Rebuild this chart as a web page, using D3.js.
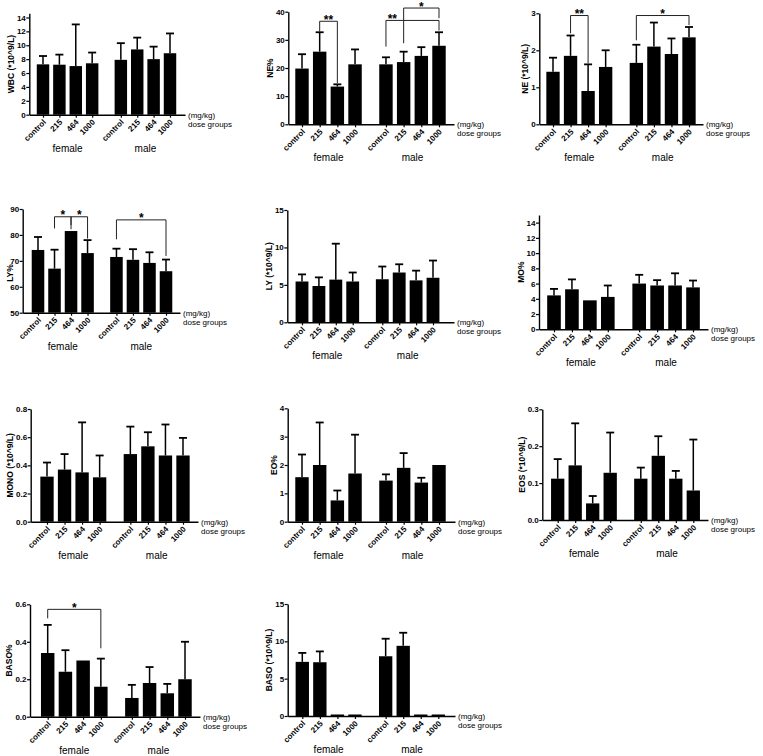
<!DOCTYPE html>
<html>
<head>
<meta charset="utf-8">
<script src="https://cdn.jsdelivr.net/npm/d3@7"></script>
<style>
  body { margin: 0; background: #fff; }
  svg { display: block; font-family: "Liberation Sans", Arial, sans-serif; }
</style>
</head>
<body>
<script>
// groups on the x axis
const doses = ['control', '215', '464', '1000'];
const sexes = ['female', 'male'];

// means and SD per group, female control..1000 then male control..1000
const wbcMean = [7.25, 7.2, 7.0, 7.4, 7.9, 9.4, 8.0, 8.85];
const wbcSd = [1.2, 1.45, 6.0, 1.55, 2.4, 1.7, 1.8, 2.85];
const nePctMean = [19.8, 25.8, 13.4, 21.3, 21.3, 22.1, 24.3, 27.9];
const nePctSd = [5.1, 6.9, 0.8, 5.3, 2.5, 3.7, 3.1, 4.8];
const neMean = [1.42, 1.85, 0.9, 1.55, 1.66, 2.1, 1.9, 2.35];
const neSd = [0.38, 0.55, 0.72, 0.45, 0.49, 0.65, 0.42, 0.28];
const lyPctMean = [74.2, 67.0, 81.5, 73.0, 71.5, 70.4, 69.2, 66.0];
const lyPctSd = [5.0, 7.3, 0, 5.0, 3.2, 4.1, 4.1, 4.5];
const lyMean = [5.45, 4.85, 5.7, 5.45, 5.75, 6.65, 5.6, 5.95];
const lySd = [0.95, 1.15, 4.8, 1.2, 1.7, 1.1, 1.3, 2.3];
const moPctMean = [4.45, 5.25, 3.8, 4.25, 6.0, 5.75, 5.75, 5.5];
const moPctSd = [0.85, 1.3, 0, 1.5, 1.15, 0.7, 1.6, 0.9];
const monoMean = [0.32, 0.37, 0.35, 0.315, 0.48, 0.535, 0.47, 0.47];
const monoSd = [0.1, 0.11, 0.355, 0.155, 0.195, 0.1, 0.22, 0.125];
const eoPctMean = [1.57, 2.0, 0.75, 1.7, 1.45, 1.9, 1.38, 2.0];
const eoPctSd = [0.8, 1.5, 0.35, 1.37, 0.22, 0.52, 0.17, 0];
const eosMean = [0.112, 0.148, 0.045, 0.128, 0.112, 0.174, 0.112, 0.08];
const eosSd = [0.053, 0.114, 0.02, 0.109, 0.03, 0.053, 0.021, 0.138];
const basoPctMean = [0.34, 0.24, 0.30, 0.16, 0.10, 0.18, 0.125, 0.20];
const basoPctSd = [0.15, 0.115, 0, 0.15, 0.07, 0.085, 0.05, 0.20];
const basoMean = [7.25, 7.2, 0, 0, 8.0, 9.4, 0, 0];
const basoSd = [1.2, 1.45, 0, 0, 2.35, 1.75, 0, 0];

// significance brackets: from/to group index, bracket level, leg ends, mark
const sigNePct = [
  {from: 1, to: 2, level: 36.6, endA: 32.9, endB: 14.6, mark: '**'},
  {from: 4, to: 7, level: 36.9, endA: 27.6, endB: 33.3, mark: '**', at: 0.12},
  {from: 5, to: 7, level: 41.3, endA: 28.8, endB: 37.7, mark: '*'}
];
const sigNe = [
  {from: 1, to: 2, level: 2.94, endA: 2.46, endB: 1.65, mark: '**'},
  {from: 4, to: 7, level: 2.94, endA: 2.27, endB: 2.68, mark: '*'}
];
const sigLyPct = [
  {from: 1, to: 2, level: 87.0, endA: 82.5, endB: 82.2, mark: '*'},
  {from: 2, to: 3, level: 87.0, endA: 83.8, endB: 78.6, mark: '*'},
  {from: 4, to: 7, level: 85.8, endA: 78.3, endB: 71.9, mark: '*'}
];
const sigBasoPct = [
  {from: 0, to: 3, level: 0.573, endA: 0.525, endB: 0.365, mark: '*'}
];

// tick values
const ticks14 = [0, 2, 4, 6, 8, 10, 12, 14];
const ticks40 = [0, 10, 20, 30, 40];
const ticks3 = [0, 1, 2, 3];
const ticksLy = [50, 60, 70, 80, 90];
const ticks15 = [0, 5, 10, 15];
const ticks08 = [0, 0.2, 0.4, 0.6, 0.8];
const ticks4 = [0, 1, 2, 3, 4];
const ticks03 = [0, 0.1, 0.2, 0.3];
const ticks06 = [0, 0.2, 0.4, 0.6];

const fmtInt = d3.format('d');
const fmt1 = d3.format('.1f');

// box: y axis x, first/last bar centre, x axis end, bottom/top pixel of the y domain
const panels = [
  {title: 'WBC  (*10^9/L)', mean: wbcMean, sd: wbcSd, domain: [0, 14.6], ticks: ticks14, fmt: fmtInt,
   box: {ax: 29.3, c0: 43, c7: 170, xEnd: 185, yb: 114.7, yt: 13.3}},
  {title: 'NE%', mean: nePctMean, sd: nePctSd, domain: [0, 40], ticks: ticks40, fmt: fmtInt, sig: sigNePct,
   box: {ax: 288.3, c0: 302, c7: 439, xEnd: 454, yb: 124.3, yt: 11.7}},
  {title: 'NE (*10^9/L)', mean: neMean, sd: neSd, domain: [0, 3], ticks: ticks3, fmt: fmtInt, sig: sigNe,
   box: {ax: 539.3, c0: 553, c7: 689, xEnd: 703, yb: 124.3, yt: 13.3}},
  {title: 'LY%', mean: lyPctMean, sd: lyPctSd, domain: [50, 90], ticks: ticksLy, fmt: fmtInt, sig: sigLyPct,
   box: {ax: 22.7, c0: 38, c7: 166, xEnd: 180, yb: 312.7, yt: 209, tx: 9.5, ty: 273}},
  {title: 'LY (*10^9/L)', mean: lyMean, sd: lySd, domain: [0, 15], ticks: ticks15, fmt: fmtInt,
   box: {ax: 287.3, c0: 302, c7: 433, xEnd: 454, yb: 322.3, yt: 210}},
  {title: 'MO%', mean: moPctMean, sd: moPctSd, domain: [0, 15], ticks: ticks14, fmt: fmtInt,
   box: {ax: 539, c0: 554, c7: 693, xEnd: 708, yb: 329.3, yt: 215}},
  {title: 'MONO (*10^9/L)', mean: monoMean, sd: monoSd, domain: [0, 0.8], ticks: ticks08, fmt: fmt1,
   box: {ax: 30.7, c0: 47, c7: 183, xEnd: 198, yb: 521.7, yt: 409}},
  {title: 'EO%', mean: eoPctMean, sd: eoPctSd, domain: [0, 4], ticks: ticks4, fmt: fmtInt,
   box: {ax: 287.7, c0: 302, c7: 439, xEnd: 455, yb: 521.7, yt: 408.3}},
  {title: 'EOS (*10^9/L)', mean: eosMean, sd: eosSd, domain: [0, 0.3], ticks: ticks03, fmt: fmt1,
   box: {ax: 542.3, c0: 557.7, c7: 693.3, xEnd: 708, yb: 520, yt: 409.3}},
  {title: 'BASO%', mean: basoPctMean, sd: basoPctSd, domain: [0, 0.6], ticks: ticks06, fmt: fmt1, sig: sigBasoPct,
   box: {ax: 30, c0: 47.7, c7: 185, xEnd: 200, yb: 716.7, yt: 604.3}},
  {title: 'BASO (*10^9/L)', mean: basoMean, sd: basoSd, domain: [0, 15], ticks: ticks15, fmt: fmtInt,
   box: {ax: 287.7, c0: 302.3, c7: 438.3, xEnd: 455, yb: 716, yt: 604}}
];

// bar slots, with a wider gap between the female and male groups
const slots = [0, 1, 2, 3, 4.75, 5.75, 6.75, 7.75];

const svg = d3.select('body').append('svg')
  .attr('width', 763)
  .attr('height', 756);

svg.append('rect').attr('width', 763).attr('height', 756).attr('fill', '#fff');

panels.forEach(p => {
  const b = p.box;
  const g = svg.append('g');

  const y = d3.scaleLinear().domain(p.domain).range([b.yb, b.yt]);
  const slot = d3.scaleLinear().domain([0, 7.75]).range([b.c0, b.c7]);
  // same mapping, stretched so the axis line runs from the y axis to xEnd
  const xAx = slot.copy().domain([slot.invert(b.ax), slot.invert(b.xEnd)]).range([b.ax, b.xEnd]);
  const bw = (b.c7 - b.c0) / 7.75 * 0.76;

  const rows = p.mean.map((m, i) => ({m, sd: p.sd[i], x: slot(slots[i])}));

  // bars
  g.selectAll('rect.bar').data(rows).join('rect')
    .attr('class', 'bar')
    .attr('x', d => d.x - bw / 2)
    .attr('width', bw)
    .attr('y', d => Math.min(y(d.m), b.yb - 1.5))
    .attr('height', d => Math.max(b.yb - y(d.m), 1.5))
    .attr('fill', '#000');

  // upper error bars
  const eb = g.selectAll('g.err').data(rows.filter(d => d.sd > 0)).join('g').attr('class', 'err');
  eb.append('line')
    .attr('x1', d => d.x).attr('x2', d => d.x)
    .attr('y1', d => y(d.m)).attr('y2', d => y(d.m + d.sd))
    .attr('stroke', '#000').attr('stroke-width', 1.5);
  eb.append('line')
    .attr('x1', d => d.x - 4).attr('x2', d => d.x + 4)
    .attr('y1', d => y(d.m + d.sd)).attr('y2', d => y(d.m + d.sd))
    .attr('stroke', '#000').attr('stroke-width', 1.8);

  // y axis
  const ya = g.append('g')
    .attr('transform', `translate(${b.ax},0)`)
    .call(d3.axisLeft(y).tickValues(p.ticks).tickFormat(p.fmt).tickSize(3).tickSizeOuter(0).tickPadding(0.5));
  ya.select('.domain').attr('stroke-width', 1.4);
  ya.selectAll('.tick line').attr('stroke-width', 1.2);
  ya.selectAll('text')
    .attr('font-family', '"Liberation Sans", Arial, sans-serif')
    .attr('font-size', 8).attr('font-weight', 'bold').attr('fill', '#000');
  ya.attr('font-family', null).attr('font-size', null);

  // x axis with rotated dose labels
  const xa = g.append('g')
    .attr('transform', `translate(0,${b.yb})`)
    .call(d3.axisBottom(xAx).tickValues(slots).tickFormat((d, i) => doses[i % 4]).tickSize(3).tickSizeOuter(0));
  xa.select('.domain').attr('stroke-width', 1.4);
  xa.selectAll('.tick line').attr('stroke-width', 1.2);
  xa.selectAll('text')
    .attr('x', 0).attr('y', 0).attr('dy', 0)
    .attr('text-anchor', 'end')
    .attr('transform', 'translate(3,8) rotate(-45)')
    .attr('font-family', '"Liberation Sans", Arial, sans-serif')
    .attr('font-size', 8).attr('font-weight', 'bold').attr('fill', '#000');
  xa.attr('font-family', null).attr('font-size', null);

  // unit and group notes on the right of the x axis
  g.append('text').attr('x', b.xEnd + 3).attr('y', b.yb + 3)
    .attr('font-size', 8).text('(mg/kg)');
  g.append('text').attr('x', b.xEnd + 3).attr('y', b.yb + 12)
    .attr('font-size', 8).text('dose groups');

  // sex labels under each group
  sexes.forEach((s, k) => {
    const cx = (slot(slots[k * 4]) + slot(slots[k * 4 + 3])) / 2;
    g.append('text').attr('x', cx).attr('y', b.yb + 37)
      .attr('text-anchor', 'middle').attr('font-size', 10).text(s);
  });

  // y title, just left of the widest tick label unless placed by hand
  const labelLeft = d3.min(ya.selectAll('.tick text').nodes(), n => n.getBBox().x) + b.ax;
  const tx = b.tx !== undefined ? b.tx : labelLeft - 6;
  const ty = b.ty !== undefined ? b.ty : (b.yb + b.yt) / 2;
  g.append('text')
    .attr('transform', `translate(${tx},${ty}) rotate(-90)`)
    .attr('text-anchor', 'middle')
    .attr('dominant-baseline', 'central')
    .attr('font-size', 8.5).attr('font-weight', 'bold')
    .text(p.title);

  // significance brackets
  (p.sig || []).forEach(s => {
    const xa0 = slot(slots[s.from]);
    const xb0 = slot(slots[s.to]);
    g.append('path')
      .attr('d', `M${xa0},${y(s.endA)}V${y(s.level)}H${xb0}V${y(s.endB)}`)
      .attr('fill', 'none').attr('stroke', '#222').attr('stroke-width', 1);
    const at = s.at === undefined ? 0.5 : s.at;
    g.append('text')
      .attr('x', xa0 + (xb0 - xa0) * at)
      .attr('y', y(s.level) + 2.5)
      .attr('text-anchor', 'middle')
      .attr('font-size', 12).attr('font-weight', 'bold')
      .text(s.mark);
  });
});
</script>
</body>
</html>
